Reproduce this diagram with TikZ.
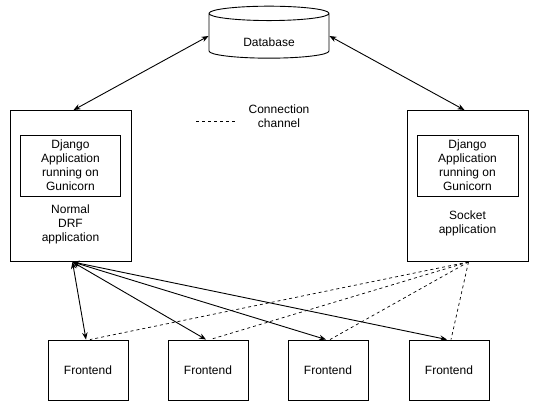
\documentclass[tikz,border=0pt]{standalone}
\usepackage{fontspec}
\setmainfont{Liberation Sans}
\usepackage{tikz}
\usetikzlibrary{positioning,arrows.meta,shapes.geometric}

\begin{document}
\begin{tikzpicture}[x=1pt, y=-1pt, line width=0.9pt, >={Stealth[length=7pt, width=5.5pt]},
    font=\fontsize{12}{14}\selectfont,
    box/.style={draw, rectangle, inner sep=0pt, align=center},
    lbl/.style={align=center, inner sep=0pt}]
  \useasboundingbox (0,0) rectangle (538,411);
  \node[draw, cylinder, shape border rotate=90, aspect=0.28, minimum width=120pt,
        minimum height=52pt, inner sep=0pt, text height=22pt, text depth=0pt]
        (db) at (269,36) {Database};
  \node[box, minimum width=121pt, minimum height=151pt] (drf) at (70.5,186) {};
  \node[box, minimum width=100pt, minimum height=61pt] (drfapp) at (70.5,165.5)
        {Django\\Application\\running on\\Gunicorn};
  \node[lbl] (drflabel) at (70.5,224) {Normal\\DRF\\application};
  \node[box, minimum width=121pt, minimum height=151pt] (sock) at (467.5,186) {};
  \node[box, minimum width=101pt, minimum height=61pt] (sockapp) at (467.5,165.5)
        {Django\\Application\\running on\\Gunicorn};
  \node[lbl] (socklabel) at (467.5,223) {Socket\\application};
  \foreach \i/\x in {1/88, 2/208, 3/328, 4/449}
    \node[box, minimum width=80pt, minimum height=60pt] (fe\i) at (\x,370) {Frontend};
  % legend
  \coordinate (legA) at (196,121);
  \coordinate (legB) at (235,121);
  \draw[dashed, line width=0.7pt] (legA) -- (legB);
  \node[lbl] (legend) at (279,116) {Connection\\channel};
  \draw[<->] (db.west) -- ([xshift=3pt]drf.north);
  \draw[<->] (db.east) -- ([xshift=-3pt]sock.north);
  \foreach \i in {1,...,4} {
    \draw[<->] ([xshift=2pt]drf.south) -- ([xshift=-2pt]fe\i.north);
    \draw[dashed, line width=0.7pt] ([xshift=1pt]sock.south) -- ([xshift=2pt]fe\i.north);
  }
\end{tikzpicture}
\end{document}
